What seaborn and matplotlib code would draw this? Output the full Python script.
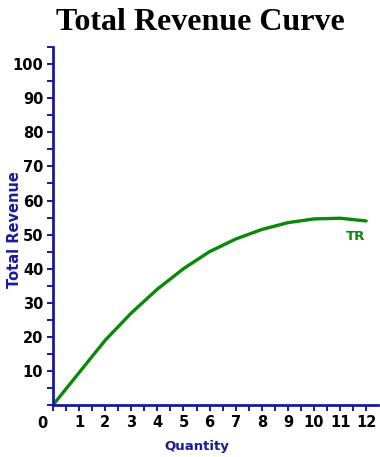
import numpy as np
import pandas as pd
import matplotlib
matplotlib.use("Agg")
import matplotlib.pyplot as plt
from matplotlib.ticker import MultipleLocator
import seaborn as sns

# values
quantity = [0, 1, 2, 3, 4, 5, 6, 7, 8, 9, 10, 11, 12]
total_revenue = [0, 9.5, 19, 27, 34, 40, 45, 48.7, 51.5, 53.5, 54.6, 54.8, 54]
x_ticks = [1, 2, 3, 4, 5, 6, 7, 8, 9, 10, 11, 12]
y_ticks = [10, 20, 30, 40, 50, 60, 70, 80, 90, 100]

df = pd.DataFrame({"Quantity": quantity, "Total Revenue": total_revenue})

sns.set_style("white")
plt.rcParams["font.family"] = ["DejaVu Sans"]

axis_blue = "#1a1a9c"
line_green = "#0a880a"

fig = plt.figure(figsize=(3.8, 4.57), dpi=100)
ax = fig.add_axes([0.1395, 0.1138, 0.855, 0.783])

sns.lineplot(data=df, x="Quantity", y="Total Revenue", color=line_green,
             linewidth=2.4, ax=ax)

ax.set_xlim(0, 12.45)
ax.set_ylim(0, 105)
ax.set_xticks(x_ticks)
ax.set_yticks(y_ticks)
ax.xaxis.set_minor_locator(MultipleLocator(0.5))
ax.yaxis.set_minor_locator(MultipleLocator(5))
ax.tick_params(which="both", bottom=True, left=True, direction="out",
               length=4, width=1.4, color=axis_blue)
ax.tick_params(which="major", labelsize=10.5, labelcolor="black", pad=3)
for lbl in ax.get_xticklabels() + ax.get_yticklabels():
    lbl.set_fontweight("bold")

for side in ["top", "right"]:
    ax.spines[side].set_visible(False)
for side in ["left", "bottom"]:
    ax.spines[side].set_color(axis_blue)
    ax.spines[side].set_linewidth(2)

ax.set_xlabel("Quantity", color=axis_blue, fontweight="bold", fontsize=9.5)
ax.set_ylabel("Total Revenue", color=axis_blue, fontweight="bold", fontsize=10.5)
ax.xaxis.set_label_coords(0.443, -0.097)
ax.yaxis.set_label_coords(-0.095, 0.49)

# the lone 0 at the corner
ax.text(-0.42, -5.3, "0", ha="center", va="center", fontsize=10.5,
        fontweight="bold", color="black", clip_on=False)

ax.text(11.6, 49.5, "TR", ha="center", va="center", fontsize=9.5,
        fontweight="bold", color=line_green)

fig.text(0.526, 0.951, "Total Revenue Curve", ha="center", va="center",
         fontsize=23, fontweight="bold", family="Liberation Serif", color="black")

fig.savefig("out.png", dpi=100)
